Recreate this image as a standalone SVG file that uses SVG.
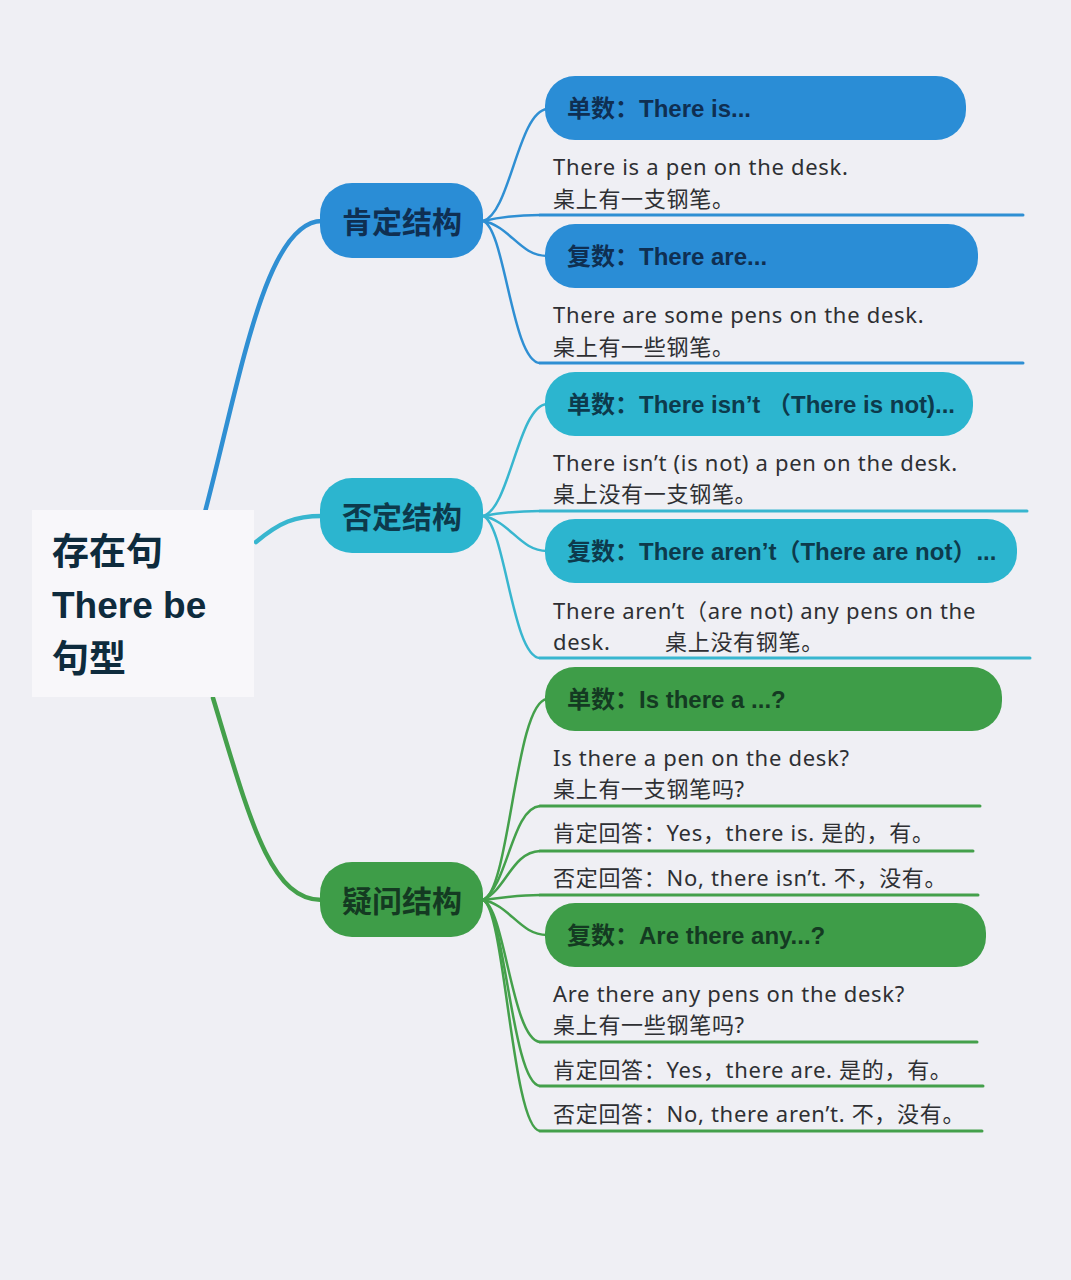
<svg xmlns="http://www.w3.org/2000/svg" width="1071" height="1280" viewBox="0 0 1071 1280">
<style>
.bg{fill:#efeff4}
.root{fill:#f8f7fa}
.rt{font-family:"Liberation Sans","Noto Sans CJK SC",sans-serif;font-weight:bold;font-size:37px;fill:#0e2b3d}
.nt{font-family:"Liberation Sans","Noto Sans CJK SC",sans-serif;font-weight:bold;font-size:30px;text-anchor:middle}
.bt{font-family:"Liberation Sans","Noto Sans CJK SC",sans-serif;font-weight:bold;font-size:24px}
.tx{font-family:"Noto Sans","Noto Sans CJK SC",sans-serif;font-size:22px;fill:#2e2f33;letter-spacing:0.7px}
.blue{fill:#2a8dd6}
.teal{fill:#2cb5cf}
.green{fill:#3e9d48}
.tb{fill:#0f2f52}
.tt{fill:#0d3a4c}
.tg{fill:#143a22}
.cb{stroke:#2f8fd3;fill:none}
.ct{stroke:#38b6cf;fill:none}
.cg{stroke:#44a04b;fill:none}
.main{stroke-width:4.5;stroke-linecap:round}
.sub{stroke-width:2.5}
.ul{stroke-width:3;stroke-linecap:round}
</style>
<rect class="bg" x="0" y="0" width="1071" height="1280"/>

<g id="connectors">
  <path class="cb main" d="M205,512 C240,380 265,221 322,221"/>
  <path class="ct main" d="M256,542 C280,522 295,516 322,516"/>
  <path class="cg main" d="M213,698 C250,820 270,900 322,900"/>

  <path class="cb sub" d="M483,221 C510,214 518,112 547,109"/>
  <path class="cb sub" d="M483,221 C505,216 520,215 540,215"/>
  <path class="cb sub" d="M483,221 C510,226 520,256 547,256"/>
  <path class="cb sub" d="M483,221 C505,228 512,362 540,363"/>

  <path class="ct sub" d="M483,516 C510,509 518,406 547,404"/>
  <path class="ct sub" d="M483,516 C505,512 520,511 540,511"/>
  <path class="ct sub" d="M483,516 C510,521 520,551 547,551"/>
  <path class="ct sub" d="M483,516 C505,523 512,657 540,658"/>

  <path class="cg sub" d="M483,900 C510,892 515,702 547,699"/>
  <path class="cg sub" d="M483,900 C508,885 512,808 540,806"/>
  <path class="cg sub" d="M483,900 C506,890 512,852 540,851"/>
  <path class="cg sub" d="M483,900 C505,897 520,895 540,895"/>
  <path class="cg sub" d="M483,900 C510,905 520,935 547,935"/>
  <path class="cg sub" d="M483,900 C505,908 512,1040 540,1042"/>
  <path class="cg sub" d="M483,900 C505,908 512,1084 540,1086"/>
  <path class="cg sub" d="M483,900 C505,908 512,1129 540,1131"/>
</g>

<g id="root">
  <rect class="root" x="32" y="510" width="222" height="187"/>
  <text class="rt" x="52" y="565">存在句</text>
  <text class="rt" x="52" y="618">There be</text>
  <text class="rt" x="52" y="672">句型</text>
</g>

<g id="n-affirm">
  <rect class="blue" x="320" y="183" width="163" height="75" rx="32"/>
  <text class="nt tb" x="402" y="233">肯定结构</text>
</g>
<g id="n-affirm-sing">
  <rect class="blue" x="545" y="76" width="421" height="64" rx="30"/>
  <text class="bt tb" x="567" y="117">单数：There is...</text>
</g>
<g id="n-affirm-sing-ex">
  <text class="tx" x="553" y="175">There is a pen on the desk.</text>
  <text class="tx" x="553" y="207">桌上有一支钢笔。</text>
  <path class="cb ul" d="M540,215 L1023,215"/>
</g>
<g id="n-affirm-plur">
  <rect class="blue" x="545" y="224" width="433" height="64" rx="30"/>
  <text class="bt tb" x="567" y="265">复数：There are...</text>
</g>
<g id="n-affirm-plur-ex">
  <text class="tx" x="553" y="323">There are some pens on the desk.</text>
  <text class="tx" x="553" y="355">桌上有一些钢笔。</text>
  <path class="cb ul" d="M540,363 L1023,363"/>
</g>

<g id="n-neg">
  <rect class="teal" x="320" y="478" width="163" height="75" rx="32"/>
  <text class="nt tt" x="402" y="528">否定结构</text>
</g>
<g id="n-neg-sing">
  <rect class="teal" x="545" y="372" width="428" height="64" rx="30"/>
  <text class="bt tt" x="567" y="413">单数：There isn’t （There is not)...</text>
</g>
<g id="n-neg-sing-ex">
  <text class="tx" x="553" y="471">There isn’t (is not) a pen on the desk.</text>
  <text class="tx" x="553" y="502">桌上没有一支钢笔。</text>
  <path class="ct ul" d="M540,511 L1027,511"/>
</g>
<g id="n-neg-plur">
  <rect class="teal" x="545" y="519" width="472" height="64" rx="30"/>
  <text class="bt tt" x="567" y="560">复数：There aren’t（There are not）...</text>
</g>
<g id="n-neg-plur-ex">
  <text class="tx" x="553" y="619">There aren’t（are not) any pens on the</text>
  <text class="tx" x="553" y="650">desk.</text>
  <text class="tx" x="665" y="650">桌上没有钢笔。</text>
  <path class="ct ul" d="M540,658 L1030,658"/>
</g>

<g id="n-q">
  <rect class="green" x="320" y="862" width="163" height="75" rx="32"/>
  <text class="nt tg" x="402" y="912">疑问结构</text>
</g>
<g id="n-q-sing">
  <rect class="green" x="545" y="667" width="457" height="64" rx="30"/>
  <text class="bt tg" x="567" y="708">单数：Is there a ...?</text>
</g>
<g id="n-q-sing-ex">
  <text class="tx" x="553" y="766">Is there a pen on the desk?</text>
  <text class="tx" x="553" y="797">桌上有一支钢笔吗?</text>
  <path class="cg ul" d="M540,806 L980,806"/>
</g>
<g id="n-q-sing-yes">
  <text class="tx" x="553" y="841">肯定回答：Yes，there is. 是的，有。</text>
  <path class="cg ul" d="M540,851 L973,851"/>
</g>
<g id="n-q-sing-no">
  <text class="tx" x="553" y="886">否定回答：No, there isn’t. 不，没有。</text>
  <path class="cg ul" d="M540,895 L978,895"/>
</g>
<g id="n-q-plur">
  <rect class="green" x="545" y="903" width="441" height="64" rx="30"/>
  <text class="bt tg" x="567" y="944">复数：Are there any...?</text>
</g>
<g id="n-q-plur-ex">
  <text class="tx" x="553" y="1002">Are there any pens on the desk?</text>
  <text class="tx" x="553" y="1033">桌上有一些钢笔吗?</text>
  <path class="cg ul" d="M540,1042 L977,1042"/>
</g>
<g id="n-q-plur-yes">
  <text class="tx" x="553" y="1078">肯定回答：Yes，there are. 是的，有。</text>
  <path class="cg ul" d="M540,1086 L983,1086"/>
</g>
<g id="n-q-plur-no">
  <text class="tx" x="553" y="1122">否定回答：No, there aren’t. 不，没有。</text>
  <path class="cg ul" d="M540,1131 L982,1131"/>
</g>
</svg>
